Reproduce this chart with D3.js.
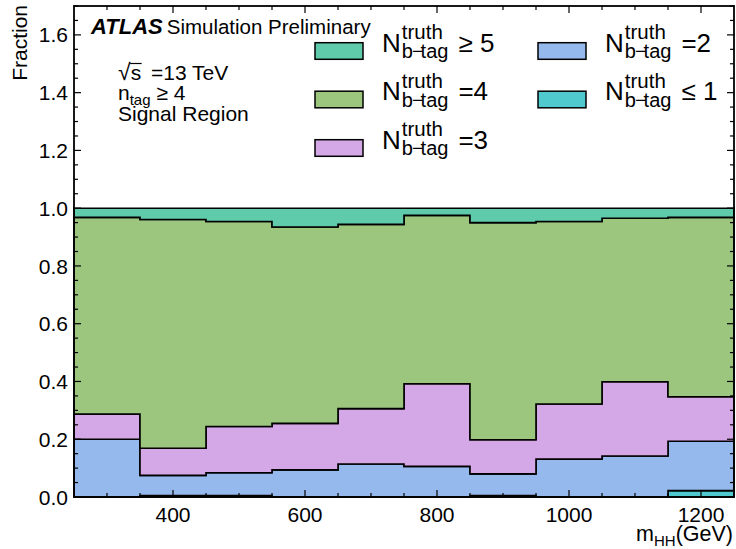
<!DOCTYPE html>
<html>
<head>
<meta charset="utf-8">
<script src="https://cdn.jsdelivr.net/npm/d3@7"></script>
<style>
  html, body { margin: 0; padding: 0; background: #fff; }
  svg { display: block; font-family: "Liberation Sans", Arial, Helvetica, sans-serif; }
</style>
</head>
<body>
<svg id="chart" width="736" height="549"></svg>
<script>
// m_HH bin edges (GeV)
const binEdges = [250, 350, 450, 550, 650, 750, 850, 950, 1050, 1150, 1250];

// Fraction of events per truth b-tag multiplicity, stacked bottom to top
const fracLe1 = [0.000, 0.005, 0.005, 0.000, 0.000, 0.000, 0.005, 0.000, 0.000, 0.022];
const frac2   = [0.200, 0.070, 0.079, 0.094, 0.114, 0.106, 0.075, 0.131, 0.142, 0.171];
const frac3   = [0.087, 0.094, 0.160, 0.161, 0.192, 0.286, 0.118, 0.191, 0.257, 0.154];
const frac4   = [0.681, 0.792, 0.710, 0.680, 0.638, 0.583, 0.752, 0.632, 0.566, 0.621];
const fracGe5 = [0.032, 0.039, 0.046, 0.065, 0.056, 0.025, 0.050, 0.046, 0.035, 0.032];

const seriesKeys  = ["le1", "eq2", "eq3", "eq4", "ge5"];
const seriesRel   = ["\u2264 1", "=2", "=3", "=4", "\u2265 5"];
const seriesColor = ["#4fc8ce", "#95b9ec", "#d4a7e7", "#9cc57e", "#5fcbaa"];
const seriesData  = [fracLe1, frac2, frac3, frac4, fracGe5];

const xTickValues = [400, 600, 800, 1000, 1200];
const yTickValues = [0.0, 0.2, 0.4, 0.6, 0.8, 1.0, 1.2, 1.4, 1.6];

const svg = d3.select("#chart");
const plot = { left: 74, right: 734, top: 6, bottom: 497 };

const x = d3.scaleLinear().domain([250, 1250]).range([plot.left, plot.right]);
const y = d3.scaleLinear().domain([0, 1.7]).range([plot.bottom, plot.top]);

// table rows: one per bin
const rows = binEdges.slice(0, -1).map((lo, i) => {
  const r = { lo: lo, hi: binEdges[i + 1] };
  seriesKeys.forEach((k, j) => { r[k] = seriesData[j][i]; });
  return r;
});
const stacked = d3.stack().keys(seriesKeys)(rows);

// step-filled polygon for one stacked layer
function stepPolygon(layer) {
  const top = [], bottom = [];
  layer.forEach(d => {
    top.push([x(d.data.lo), y(d[1])], [x(d.data.hi), y(d[1])]);
    bottom.push([x(d.data.lo), y(d[0])], [x(d.data.hi), y(d[0])]);
  });
  return top.concat(bottom.reverse());
}

svg.append("g")
  .selectAll("path")
  .data(stacked)
  .join("path")
  .attr("d", d => d3.line()(stepPolygon(d)) + "Z")
  .attr("fill", (d, i) => seriesColor[i])
  .attr("stroke", "#000")
  .attr("stroke-width", 1.6)
  .attr("stroke-linejoin", "miter");

// frame with inward ticks on all four sides
const xMinor = d3.range(300, 1250, 50).filter(v => !xTickValues.includes(v));
const yMinor = d3.range(0, 1.7001, 0.05).map(v => +v.toFixed(2))
  .filter(v => !yTickValues.some(t => Math.abs(t - v) < 1e-6));

const axes = svg.append("g").attr("stroke", "#000").attr("stroke-width", 1.2);
const majorLen = 7, minorLen = 4;
function xTicks(vals, len) {
  vals.forEach(v => {
    axes.append("line").attr("x1", x(v)).attr("x2", x(v)).attr("y1", plot.bottom).attr("y2", plot.bottom - len);
    axes.append("line").attr("x1", x(v)).attr("x2", x(v)).attr("y1", plot.top).attr("y2", plot.top + len);
  });
}
function yTicks(vals, len) {
  vals.forEach(v => {
    axes.append("line").attr("y1", y(v)).attr("y2", y(v)).attr("x1", plot.left).attr("x2", plot.left + len);
    axes.append("line").attr("y1", y(v)).attr("y2", y(v)).attr("x1", plot.right).attr("x2", plot.right - len);
  });
}
xTicks(xTickValues, majorLen);
xTicks(xMinor, minorLen);
yTicks(yTickValues, majorLen);
yTicks(yMinor, minorLen);

svg.append("rect")
  .attr("x", plot.left).attr("y", plot.top)
  .attr("width", plot.right - plot.left).attr("height", plot.bottom - plot.top)
  .attr("fill", "none").attr("stroke", "#000").attr("stroke-width", 1.8);

// tick labels
svg.append("g").selectAll("text").data(yTickValues).join("text")
  .attr("x", plot.left - 6).attr("y", d => y(d)).attr("dy", "0.36em")
  .attr("text-anchor", "end").attr("font-size", 21)
  .text(d => d.toFixed(1));

svg.append("g").selectAll("text").data(xTickValues).join("text")
  .attr("x", d => x(d)).attr("y", 522)
  .attr("text-anchor", "middle").attr("font-size", 21)
  .text(d => d);

// axis titles
svg.append("text")
  .attr("transform", "translate(26.5,5) rotate(-90)")
  .attr("text-anchor", "end").attr("font-size", 21)
  .text("Fraction");

const xt = svg.append("text").attr("x", 733).attr("y", 541)
  .attr("text-anchor", "end").attr("font-size", 21.5);
xt.append("tspan").text("m");
xt.append("tspan").attr("font-size", 15).attr("dy", 5).text("HH");
xt.append("tspan").attr("dy", -5).text("(GeV)");

// experiment label
const atlas = svg.append("text").attr("x", 91).attr("y", 34).attr("font-size", 20.5);
atlas.append("tspan").attr("font-weight", "bold").attr("font-style", "italic").attr("font-size", 22).text("ATLAS");
atlas.append("tspan").attr("dx", 4).text("Simulation Preliminary");

// selection info
const s1 = svg.append("text").attr("x", 118).attr("y", 80).attr("font-size", 21);
s1.append("tspan").attr("font-size", 23).text("\u221A");
s1.append("tspan").text("s");
s1.append("tspan").attr("dx", 4).text(" =13 TeV");
const sqrtNode = s1.node();
const sStart = sqrtNode.getStartPositionOfChar(1).x;
const sEnd = sqrtNode.getEndPositionOfChar(1).x;
svg.append("line")
  .attr("x1", sStart - 0.5).attr("x2", sEnd + 0.5)
  .attr("y1", 63.5).attr("y2", 63.5)
  .attr("stroke", "#000").attr("stroke-width", 1.2);

const s2 = svg.append("text").attr("x", 118).attr("y", 100).attr("font-size", 21);
s2.append("tspan").text("n");
s2.append("tspan").attr("font-size", 15).attr("dy", 5).text("tag");
s2.append("tspan").attr("dy", -5).text(" \u2265 4");

svg.append("text").attr("x", 118).attr("y", 120.5).attr("font-size", 21).text("Signal Region");

// legend
const legendOrder = [4, 3, 2, 1, 0];
const legendPos = [
  { bx: 315, nx: 382, base: 51.5 },
  { bx: 315, nx: 382, base: 100 },
  { bx: 315, nx: 382, base: 148.5 },
  { bx: 538, nx: 605, base: 51.5 },
  { bx: 538, nx: 605, base: 100 }
];
const legend = svg.append("g");
legendOrder.forEach((si, k) => {
  const p = legendPos[k];
  legend.append("rect")
    .attr("x", p.bx).attr("y", p.base - 8.8)
    .attr("width", 48).attr("height", 16.6)
    .attr("fill", seriesColor[si]).attr("stroke", "#000").attr("stroke-width", 1.5);
  const n = legend.append("text").attr("x", p.nx).attr("y", p.base).attr("font-size", 26).text("N");
  const nw = n.node().getComputedTextLength();
  const sup = legend.append("text").attr("x", p.nx + nw + 1).attr("y", p.base - 12.5)
    .attr("font-size", 20.5).text("truth");
  const sub = legend.append("text").attr("x", p.nx + nw + 1).attr("y", p.base + 6.5)
    .attr("font-size", 20);
  sub.append("tspan").text("b");
  sub.append("tspan").attr("dx", -1).text("\u2212");
  sub.append("tspan").attr("dx", -3).text("tag");
  const w = Math.max(sup.node().getComputedTextLength(), sub.node().getComputedTextLength());
  legend.append("text").attr("x", p.nx + nw + 1 + w + 6).attr("y", p.base)
    .attr("font-size", 26).text(seriesRel[si]);
});
</script>
</body>
</html>
